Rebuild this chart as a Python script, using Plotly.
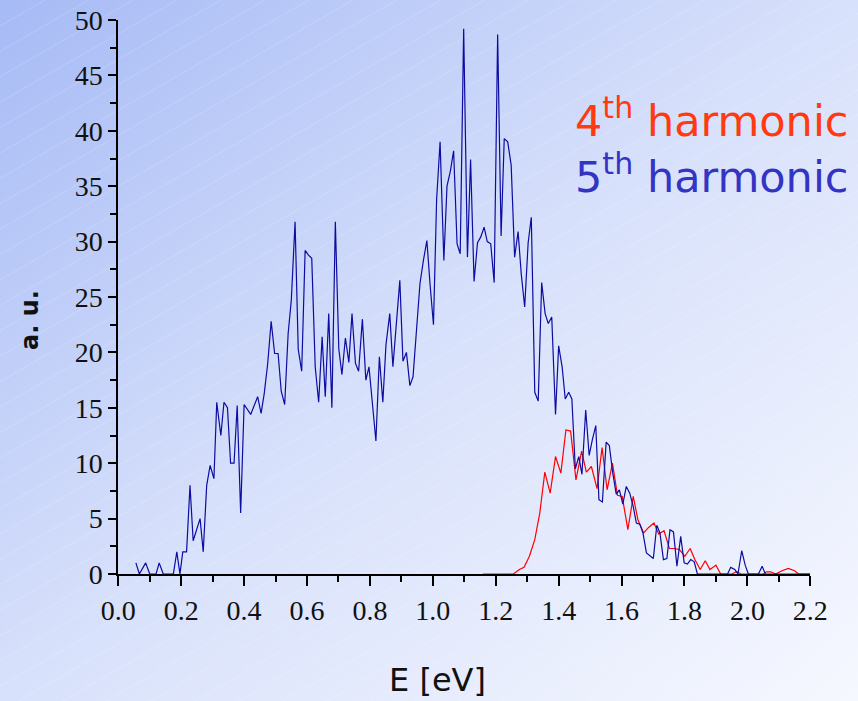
import base64

import plotly.graph_objects as go

# 5th harmonic (blue) spectrum
e5 = [0.056, 0.067, 0.087, 0.10, 0.12, 0.13, 0.143, 0.175, 0.186, 0.196,
      0.205, 0.217, 0.228, 0.238, 0.26, 0.27, 0.281, 0.292, 0.304, 0.313,
      0.326, 0.336, 0.347, 0.357, 0.368, 0.378, 0.389, 0.40, 0.421, 0.443,
      0.454, 0.464, 0.475, 0.486, 0.497, 0.508, 0.518, 0.529, 0.540, 0.550,
      0.562, 0.572, 0.583, 0.594, 0.604, 0.615, 0.626, 0.637, 0.648, 0.658,
      0.669, 0.679, 0.690, 0.701, 0.711, 0.722, 0.733, 0.743, 0.754, 0.764,
      0.776, 0.787, 0.797, 0.809, 0.819, 0.830, 0.841, 0.851, 0.863, 0.873,
      0.884, 0.895, 0.905, 0.916, 0.927, 0.937, 0.948, 0.959, 0.970, 0.981,
      0.991, 1.002, 1.012, 1.023, 1.035, 1.045, 1.056, 1.066, 1.077, 1.087,
      1.098, 1.110, 1.120, 1.131, 1.142, 1.152, 1.163, 1.173, 1.184, 1.195,
      1.206, 1.217, 1.227, 1.238, 1.249, 1.260, 1.271, 1.281, 1.292, 1.303,
      1.313, 1.324, 1.335, 1.346, 1.357, 1.367, 1.378, 1.390, 1.400, 1.411,
      1.421, 1.432, 1.442, 1.453, 1.464, 1.474, 1.486, 1.497, 1.507, 1.518,
      1.528, 1.539, 1.551, 1.561, 1.572, 1.583, 1.593, 1.604, 1.615, 1.626,
      1.637, 1.647, 1.658, 1.668, 1.679, 1.691, 1.701, 1.712, 1.722, 1.733,
      1.744, 1.754, 1.765, 1.776, 1.788, 1.799, 1.809, 1.820, 1.831, 1.841,
      1.937, 1.947, 1.960, 1.970, 1.982, 1.993, 2.003, 2.035, 2.047, 2.057,
      2.2]
i5 = [1.0, 0, 1.0, 0, 0, 1.0, 0, 0, 2.0, 0,
      2.0, 2.0, 8.0, 3.0, 5.0, 2.0, 8.0, 9.8, 8.6, 15.5,
      12.5, 15.5, 15.0, 10.0, 10.0, 15.2, 5.5, 15.3, 14.4, 16.0,
      14.5, 16.3, 19.0, 22.8, 19.9, 19.9, 16.5, 15.3, 21.7, 24.7,
      31.8, 20.3, 18.3, 29.2, 28.8, 28.5, 18.7, 15.5, 21.4, 16.0,
      23.5, 15.0, 31.8, 20.3, 18.0, 21.3, 19.1, 23.5, 19.0, 18.3,
      23.0, 17.5, 18.7, 15.4, 12.0, 19.6, 15.5, 20.7, 23.5, 18.7,
      22.3, 26.5, 19.2, 20.0, 17.0, 17.8, 22.0, 26.2, 28.3, 30.1,
      26.2, 22.5, 33.8, 39.0, 28.3, 35.0, 36.4, 38.2, 29.8, 28.9,
      49.2, 28.6, 37.4, 26.4, 29.9, 30.4, 31.3, 30.0, 29.8, 26.3,
      48.7, 30.5, 39.3, 39.0, 36.9, 28.6, 30.9, 27.1, 24.1, 29.9,
      32.2, 16.4, 15.6, 26.3, 23.5, 22.6, 23.2, 14.4, 20.6, 18.7,
      15.8, 16.4, 15.8, 9.5, 10.6, 9.0, 14.8, 10.7, 12.1, 13.4,
      6.7, 6.5, 11.9, 11.6, 9.1, 7.2, 7.6, 6.3, 7.9, 7.3,
      6.1, 4.6, 4.5, 3.7, 1.9, 1.6, 1.4, 4.4, 3.7, 1.3,
      1.4, 4.0, 3.8, 0.7, 3.4, 1.0, 0.9, 1.3, 1.1, 0,
      0, 0.6, 0.4, 0, 2.1, 0.8, 0, 0, 0.7, 0,
      0]

# 4th harmonic (red) spectrum
e4 = [1.159, 1.256, 1.275, 1.29, 1.307, 1.324, 1.340, 1.356, 1.373, 1.390,
      1.407, 1.423, 1.438, 1.455, 1.473, 1.488, 1.504, 1.522, 1.538, 1.554,
      1.571, 1.587, 1.602, 1.620, 1.637, 1.652, 1.670, 1.686, 1.703, 1.718,
      1.735, 1.752, 1.769, 1.784, 1.801, 1.818, 1.833, 1.850, 1.866, 1.881,
      1.900, 1.915, 1.950, 1.966, 1.980, 2.05, 2.06, 2.074, 2.09, 2.11,
      2.13, 2.15, 2.163, 2.2]
i4 = [0, 0, 0.4, 0.6, 1.6, 3.1, 5.5, 9.2, 7.3, 10.6,
      9.1, 13.0, 12.9, 8.5, 11.1, 9.2, 9.7, 7.7, 11.4, 7.6,
      10.0, 7.1, 7.0, 4.0, 7.0, 4.9, 3.7, 4.2, 4.6, 3.6,
      3.9, 2.3, 2.3, 2.2, 1.6, 2.3, 1.3, 0.4, 1.2, 0.4,
      0.8, 0, 0, 0.2, 0, 0, 0.2, 0.2, 0, 0.3,
      0.5, 0.3, 0, 0]

W, H = 858, 701

# gradient background with faint diagonal hatching
svg = f"""<svg xmlns="http://www.w3.org/2000/svg" width="{W}" height="{H}">
<defs>
<linearGradient id="g" x1="0" y1="0" x2="1" y2="1">
<stop offset="0" stop-color="#a6baf5"/>
<stop offset="0.5" stop-color="#d8e1fb"/>
<stop offset="1" stop-color="#f6f8ff"/>
</linearGradient>
<pattern id="p" width="22" height="22" patternUnits="userSpaceOnUse" patternTransform="rotate(-30)">
<line x1="0" y1="0.5" x2="22" y2="0.5" stroke="white" stroke-opacity="0.15" stroke-width="1"/>
</pattern>
</defs>
<rect width="{W}" height="{H}" fill="url(#g)"/>
<rect width="{W}" height="{H}" fill="url(#p)"/>
</svg>"""
bg = "data:image/svg+xml;base64," + base64.b64encode(svg.encode()).decode()

fig = go.Figure()
fig.add_trace(go.Scatter(x=e4, y=i4, mode="lines",
                         line=dict(color="#ff0000", width=1.2), name="4th"))
fig.add_trace(go.Scatter(x=e5, y=i5, mode="lines",
                         line=dict(color="#0c0ca0", width=1.2), name="5th"))

axis_common = dict(
    showline=True, linecolor="black", linewidth=2,
    ticks="outside", tickcolor="black", tickwidth=2,
    showgrid=False, zeroline=False, layer="below traces", automargin=False,
    tickfont=dict(family="Liberation Serif", size=28, color="#111111"),
)

fig.update_layout(
    template="none",
    width=W, height=H,
    margin=dict(l=0, r=0, t=0, b=0, pad=0),
    paper_bgcolor="rgba(0,0,0,0)",
    plot_bgcolor="rgba(0,0,0,0)",
    showlegend=False,
    xaxis=dict(axis_common, range=[0, 2.2], dtick=0.2, tickformat=".1f",
               ticklen=10, domain=[118.3 / W, 810.3 / W],
               minor=dict(dtick=0.1, ticklen=6, tickwidth=2, tickcolor="black", ticks="outside")),
    yaxis=dict(axis_common, range=[0, 50], dtick=5, ticklen=8,
               domain=[(H - 574) / H, (H - 20) / H],
               minor=dict(dtick=2.5, ticklen=6, tickwidth=2, tickcolor="black", ticks="outside")),
    images=[dict(source=bg, xref="paper", yref="paper", x=0, y=1,
                 sizex=1, sizey=1, sizing="stretch", layer="below")],
)

fig.add_annotation(text="E [eV]", xref="paper", yref="paper",
                   x=437 / W, y=(H - 680) / H, showarrow=False,
                   xanchor="center", yanchor="middle",
                   font=dict(family="DejaVu Sans", size=32, color="#111111"))
fig.add_annotation(text="<b>a. u.</b>", xref="paper", yref="paper",
                   x=30 / W, y=(H - 320) / H, showarrow=False, textangle=-90,
                   xanchor="center", yanchor="middle",
                   font=dict(family="DejaVu Sans", size=24, color="#111111"))
fig.add_annotation(text="4<sup>th</sup> harmonic", xref="paper", yref="paper",
                   x=850 / W, y=(H - 118) / H, showarrow=False,
                   xanchor="right", yanchor="middle",
                   font=dict(family="DejaVu Sans", size=43, color="#ff3a10"))
fig.add_annotation(text="5<sup>th</sup> harmonic", xref="paper", yref="paper",
                   x=850 / W, y=(H - 174) / H, showarrow=False,
                   xanchor="right", yanchor="middle",
                   font=dict(family="DejaVu Sans", size=43, color="#3434c4"))

fig.write_html("out.html", config={"displayModeBar": False},
               post_script="document.body.style.margin='0px';")
